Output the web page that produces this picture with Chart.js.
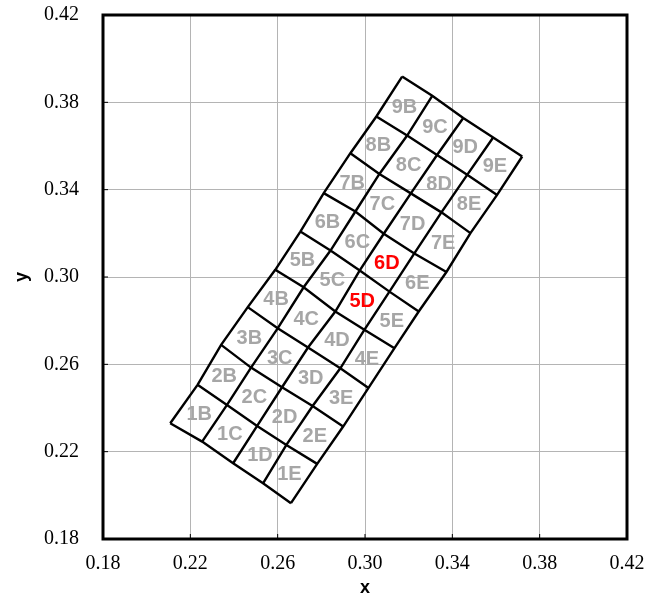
<!DOCTYPE html>
<html>
<head>
<meta charset="utf-8">
<script src="https://cdn.jsdelivr.net/npm/chart.js@4.4.0/dist/chart.umd.min.js"></script>
<style>
  html, body { margin: 0; padding: 0; background: #fff; }
</style>
</head>
<body>
<canvas id="chart" width="656" height="597"></canvas>
<script>
// mesh nodes, row 0 = bottom edge of row 1 ... row 9 = top edge of row 9
// columns: left edge of B, B|C, C|D, D|E, right edge of E
const meshX = [
  [0.2108, 0.2254, 0.2396, 0.2533, 0.2661],
  [0.2233, 0.2368, 0.2506, 0.2640, 0.2781],
  [0.2341, 0.2478, 0.2620, 0.2760, 0.2900],
  [0.2463, 0.2600, 0.2739, 0.2887, 0.3016],
  [0.2589, 0.2719, 0.2864, 0.2997, 0.3135],
  [0.2704, 0.2842, 0.2976, 0.3112, 0.3246],
  [0.2811, 0.2956, 0.3086, 0.3226, 0.3373],
  [0.2933, 0.3066, 0.3210, 0.3350, 0.3483],
  [0.3052, 0.3193, 0.3330, 0.3468, 0.3605],
  [0.3170, 0.3308, 0.3450, 0.3587, 0.3720]
];
const meshY = [
  [0.2330, 0.2246, 0.2147, 0.2055, 0.1964],
  [0.2506, 0.2414, 0.2318, 0.2231, 0.2144],
  [0.2689, 0.2585, 0.2495, 0.2409, 0.2315],
  [0.2862, 0.2765, 0.2677, 0.2582, 0.2492],
  [0.3033, 0.2953, 0.2842, 0.2758, 0.2674],
  [0.3208, 0.3121, 0.3030, 0.2933, 0.2842],
  [0.3384, 0.3300, 0.3198, 0.3108, 0.3023],
  [0.3567, 0.3472, 0.3383, 0.3296, 0.3201],
  [0.3735, 0.3648, 0.3559, 0.3468, 0.3376],
  [0.3918, 0.3830, 0.3728, 0.3639, 0.3552]
];
const rowNames = ['1', '2', '3', '4', '5', '6', '7', '8', '9'];
const colNames = ['B', 'C', 'D', 'E'];
const redCells = ['5D', '6D'];
const xTicks = [0.18, 0.22, 0.26, 0.30, 0.34, 0.38, 0.42];
const yTicks = [0.18, 0.22, 0.26, 0.30, 0.34, 0.38, 0.42];

const lineStyle = { showLine: true, borderColor: '#000', borderWidth: 2.4, pointRadius: 0, fill: false, tension: 0 };
const datasets = [];
// row lines
meshX.forEach((row, i) => {
  datasets.push(Object.assign({ data: row.map((x, j) => ({ x, y: meshY[i][j] })) }, lineStyle));
});
// column lines
meshX[0].forEach((_, j) => {
  datasets.push(Object.assign({ data: meshX.map((row, i) => ({ x: row[j], y: meshY[i][j] })) }, lineStyle));
});

// labels in each cell, inward tick marks and the frame
const meshPlugin = {
  id: 'mesh',
  afterDatasetsDraw(chart){
    const { ctx, chartArea: a, scales: { x, y } } = chart;
    ctx.save();
    ctx.font = 'bold 20px "Liberation Sans", Arial, sans-serif';
    ctx.textAlign = 'center';
    ctx.textBaseline = 'middle';
    rowNames.forEach((r, i) => colNames.forEach((c, j) => {
      const cx = (meshX[i][j] + meshX[i][j+1] + meshX[i+1][j] + meshX[i+1][j+1]) / 4;
      const cy = (meshY[i][j] + meshY[i][j+1] + meshY[i+1][j] + meshY[i+1][j+1]) / 4;
      const name = r + c;
      ctx.fillStyle = redCells.includes(name) ? '#ff0000' : '#a6a6a6';
      ctx.fillText(name, x.getPixelForValue(cx), y.getPixelForValue(cy) + 1);
    }));
    ctx.strokeStyle = '#000';
    ctx.lineWidth = 1;
    xTicks.forEach(v => {
      const px = x.getPixelForValue(v);
      ctx.beginPath(); ctx.moveTo(px, a.bottom); ctx.lineTo(px, a.bottom - 5); ctx.stroke();
    });
    yTicks.forEach(v => {
      const py = y.getPixelForValue(v);
      ctx.beginPath(); ctx.moveTo(a.left, py); ctx.lineTo(a.left + 5, py); ctx.stroke();
    });
    ctx.lineWidth = 3;
    ctx.strokeRect(a.left, a.top, a.right - a.left, a.bottom - a.top);
    ctx.restore();
  }
};

const tickFont = { family: '"Liberation Serif", "Times New Roman", serif', size: 20 };
const titleFont = { family: '"Liberation Sans", Arial, sans-serif', size: 18, weight: 'bold', lineHeight: 1 };

new Chart(document.getElementById('chart').getContext('2d'), {
  type: 'scatter',
  data: { datasets },
  options: {
    responsive: false,
    animation: false,
    layout: { padding: { top: 15, right: 29, bottom: 0, left: 0 } },
    plugins: { legend: { display: false }, tooltip: { enabled: false } },
    scales: {
      x: {
        type: 'linear', min: 0.18, max: 0.42,
        afterBuildTicks: s => { s.ticks = xTicks.map(v => ({ value: v })); },
        afterFit: s => { s.height = 58; s.paddingLeft = 0; s.paddingRight = 0; },
        grid: { color: '#b4b4b4', lineWidth: 1, drawTicks: false },
        border: { display: false },
        ticks: { padding: 13, color: '#000', font: tickFont, maxRotation: 0, autoSkip: false,
                 callback: v => Number(v).toFixed(2) },
        title: { display: true, text: 'x', color: '#000', font: titleFont, padding: 0 }
      },
      y: {
        type: 'linear', min: 0.18, max: 0.42,
        afterBuildTicks: s => { s.ticks = yTicks.map(v => ({ value: v })); },
        afterFit: s => { s.width = 103; s.paddingTop = 0; s.paddingBottom = 0; },
        grid: { color: '#b4b4b4', lineWidth: 1, drawTicks: false },
        border: { display: false },
        ticks: { padding: 24, color: '#000', font: tickFont, autoSkip: false,
                 callback: v => Number(v).toFixed(2) },
        title: { display: true, text: 'y', color: '#000', font: titleFont, padding: { top: 13, bottom: 0 } }
      }
    }
  },
  plugins: [meshPlugin]
});
</script>
</body>
</html>
